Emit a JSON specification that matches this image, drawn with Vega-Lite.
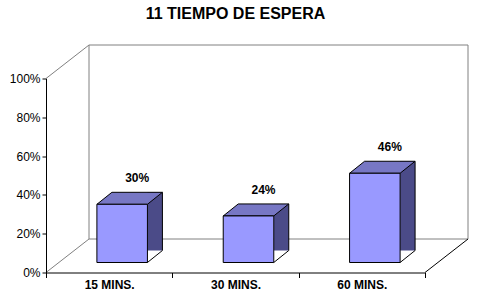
{
  "$schema": "https://vega.github.io/schema/vega-lite/v6.json",
  "width": 379,
  "height": 194,
  "autosize": {"type": "none"},
  "padding": {"left": 46, "top": 78.5, "right": 53, "bottom": 24.5},
  "background": "white",
  "config": {"view": {"stroke": null}, "font": "Liberation Sans"},
  "title": {"text": "11  TIEMPO DE ESPERA", "font": "Liberation Sans", "fontSize": 16, "fontWeight": "bold", "color": "black", "anchor": "middle", "offset": 10, "baseline": "alphabetic"},
  "layer": [
    {
      "data": {"values": [{}]},
      "layer": [
        {
          "mark": {"type": "rect", "fill": "white", "stroke": "#808080", "strokeWidth": 1, "xOffset": 43, "x2Offset": 43, "yOffset": -33.5, "y2Offset": -33.5},
          "encoding": {
            "x": {"datum": 0, "type": "quantitative", "scale": {"domain": [0, 3], "nice": false, "zero": false}, "axis": null},
            "x2": {"datum": 3},
            "y": {"datum": 0, "type": "quantitative", "scale": {"domain": [0, 1], "nice": false}, "axis": null},
            "y2": {"datum": 1}
          }
        },
        {
          "mark": {"type": "rule", "color": "#808080", "strokeWidth": 1, "x2Offset": 43, "y2Offset": -33.5},
          "encoding": {
            "x": {"datum": 0, "type": "quantitative", "axis": null},
            "x2": {"datum": 0},
            "y": {"datum": 1, "type": "quantitative", "axis": null},
            "y2": {"datum": 1}
          }
        },
        {
          "mark": {"type": "rule", "color": "#808080", "strokeWidth": 1, "x2Offset": 43, "y2Offset": -33.5},
          "encoding": {
            "x": {"datum": 0, "type": "quantitative", "axis": null},
            "x2": {"datum": 0},
            "y": {"datum": 0, "type": "quantitative", "axis": null},
            "y2": {"datum": 0}
          }
        },
        {
          "mark": {"type": "rule", "color": "black", "strokeWidth": 1, "x2Offset": 43, "y2Offset": -33.5},
          "encoding": {
            "x": {"datum": 3, "type": "quantitative", "axis": null},
            "x2": {"datum": 3},
            "y": {"datum": 0, "type": "quantitative", "axis": null},
            "y2": {"datum": 0}
          }
        }
      ],
      "resolve": {"axis": {"y": "independent"}}
    },
    {
      "data": {"values": [
        {"cat": "15  MINS.", "value": 0.30},
        {"cat": "30  MINS.", "value": 0.24},
        {"cat": "60  MINS.", "value": 0.46}
      ]},
      "encoding": {
        "x": {"field": "cat", "type": "nominal", "sort": null,
              "scale": {"paddingInner": 0, "paddingOuter": 0},
              "axis": {"title": null, "labelAngle": 0, "tickBand": "extent", "domainColor": "black", "tickColor": "black", "tickSize": 5, "labelFont": "Liberation Sans", "labelFontSize": 12, "labelFontWeight": "bold", "labelColor": "black", "labelPadding": 2}},
        "y": {"field": "value", "type": "quantitative", "scale": {"domain": [0, 1], "nice": false}, "axis": null}
      },
      "layer": [
        {
          "mark": {"type": "bar", "fill": "#4B4B88", "width": 15, "xOffset": 45.75, "yOffset": -22, "y2Offset": -10}
        },
        {
          "mark": {"type": "point", "shape": "M0,0 L15,-12 L16,-12 L16,1 L0,1 Z", "size": 4, "filled": true, "fill": "white", "strokeWidth": 0, "opacity": 1, "xOffset": 38.25, "yOffset": -10},
          "encoding": {"y": {"datum": 0, "type": "quantitative", "axis": null}}
        },
        {
          "mark": {"type": "point", "shape": "M-25.25,0 L25.25,0 L40.25,-12 L-10.25,-12 Z", "size": 4, "filled": true, "fill": "#7777C4", "stroke": "black", "strokeWidth": 1, "opacity": 1, "xOffset": 13, "yOffset": -10}
        },
        {
          "mark": {"type": "bar", "fill": "#9999FF", "stroke": "black", "strokeWidth": 1, "width": {"band": 0.4}, "xOffset": 13, "yOffset": -10, "y2Offset": -10},
          "encoding": {
            "y": {"field": "value", "type": "quantitative",
                  "axis": {"title": null, "values": [0, 0.2, 0.4, 0.6, 0.8, 1], "format": ".0%", "grid": false, "domain": true, "domainColor": "black", "domainWidth": 1, "ticks": true, "tickColor": "black", "tickSize": 4, "tickWidth": 1, "labelPadding": 2, "labelFontSize": 12, "labelColor": "black", "labelFont": "Liberation Sans", "labelOverlap": false, "zindex": 1}}
          }
        },
        {
          "mark": {"type": "rule", "color": "black", "strokeWidth": 1, "xOffset": 53.25, "yOffset": -22, "y2Offset": -22},
          "encoding": {"y2": {"datum": 0}}
        },
        {
          "mark": {"type": "point", "shape": "M0,0 L15,-12", "size": 4, "filled": false, "stroke": "black", "strokeWidth": 1, "opacity": 1, "xOffset": 38.25, "yOffset": -10},
          "encoding": {"y": {"datum": 0, "type": "quantitative", "axis": null}}
        },
        {
          "mark": {"type": "text", "dx": 28, "dy": -32, "baseline": "alphabetic", "fontWeight": "bold", "fontSize": 12, "font": "Liberation Sans", "color": "black"},
          "encoding": {"text": {"field": "value", "type": "quantitative", "format": ".0%"}}
        }
      ],
      "resolve": {"axis": {"y": "independent"}}
    }
  ],
  "resolve": {"scale": {"x": "independent"}, "axis": {"y": "independent"}}
}
